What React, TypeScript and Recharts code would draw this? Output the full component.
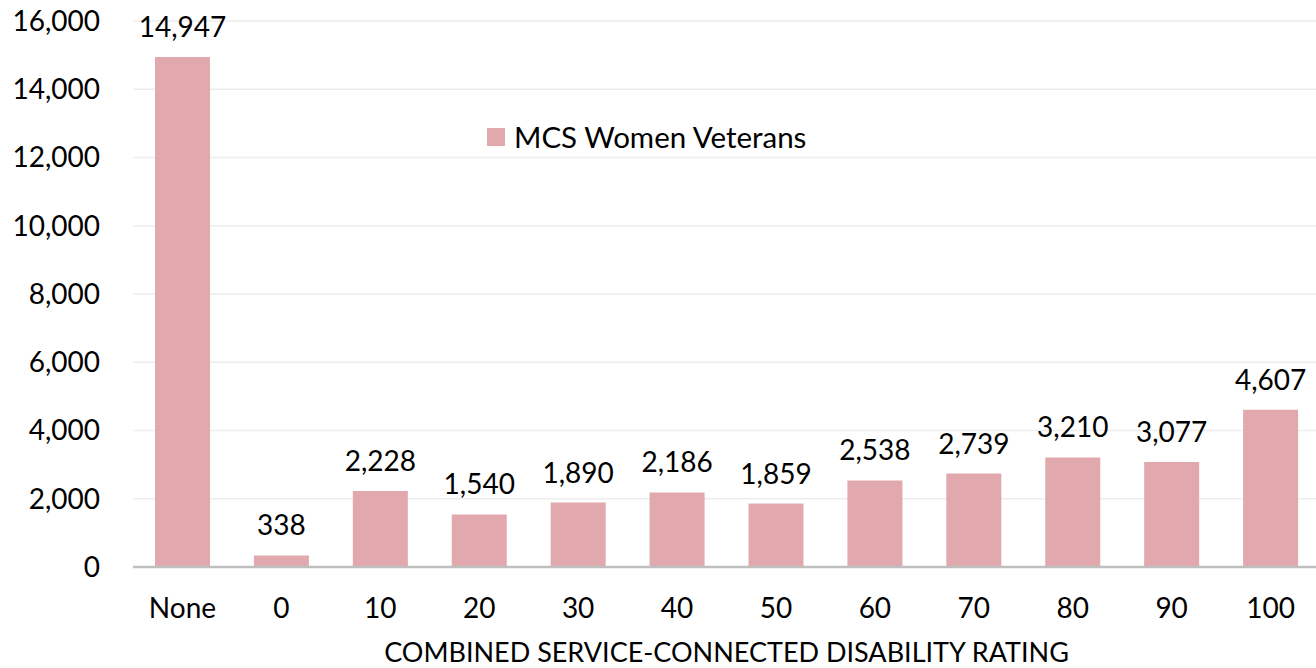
import React from 'react';
import { BarChart, Bar, XAxis, YAxis, CartesianGrid, Legend, LabelList } from 'recharts';

const categories = ['None', '0', '10', '20', '30', '40', '50', '60', '70', '80', '90', '100'];
const values = [14947, 338, 2228, 1540, 1890, 2186, 1859, 2538, 2739, 3210, 3077, 4607];
const yTicks = [0, 2000, 4000, 6000, 8000, 10000, 12000, 14000, 16000];
const seriesName = 'MCS Women Veterans';
const axisTitle = 'COMBINED SERVICE-CONNECTED DISABILITY RATING';

const data = categories.map((c, i) => ({ category: c, value: values[i] }));

const FONT = 'Lato, "Noto Sans", sans-serif';
const BAR_COLOR = '#E1A9AD';
const fmt = (v: number) => Number(v).toLocaleString('en-US');

const renderLegend = (props: any) => {
  const payload = props.payload || [];
  return (
    <div style={{ display: 'flex', flexDirection: 'column' }}>
      {payload.map((p: any, i: number) => (
        <div key={i} style={{ display: 'flex', alignItems: 'center', fontFamily: FONT, fontSize: 29.5, color: '#000', whiteSpace: 'nowrap' }}>
          <span style={{ display: 'inline-block', width: 18, height: 18, background: p.color, marginRight: 9 }} />
          <span>{p.value}</span>
        </div>
      ))}
    </div>
  );
};

export default function App() {
  return (
    <div style={{ position: 'absolute', left: 0, top: 0, width: 1316, height: 668, overflow: 'hidden', background: '#fff' }}>
      <BarChart
        width={1320}
        height={668}
        data={data}
        margin={{ top: 21, right: 0, bottom: 41, left: 0 }}
        style={{ fontFamily: FONT }}
      >
        <CartesianGrid vertical={false} stroke="#EDEDED" strokeWidth={1.5} />
        <XAxis
          dataKey="category"
          height={60}
          tickLine={false}
          tickSize={0}
          tickMargin={31}
          axisLine={{ stroke: '#BFBFBF', strokeWidth: 2.5 }}
          tick={{ fill: '#000', fontSize: 28, fontFamily: FONT }}
          interval={0}
          label={{ value: axisTitle, position: 'bottom', offset: 16, fill: '#000', fontSize: 27, fontFamily: FONT }}
        />
        <YAxis
          width={133}
          domain={[0, 16000]}
          ticks={yTicks}
          tickFormatter={fmt}
          axisLine={false}
          tickLine={false}
          tickSize={0}
          tickMargin={33}
          tick={{ fill: '#000', fontSize: 28, fontFamily: FONT }}
          interval={0}
        />
        <Legend
          content={renderLegend}
          layout="horizontal"
          verticalAlign="middle"
          align="center"
          wrapperStyle={{ left: 487, top: 119, width: 'auto', height: 'auto' }}
        />
        <Bar dataKey="value" name={seriesName} fill={BAR_COLOR} barSize={55} isAnimationActive={false}>
          <LabelList
            dataKey="value"
            position="top"
            offset={20}
            formatter={(v: any) => fmt(v)}
            style={{ fill: '#000', fontSize: 28, fontFamily: FONT }}
          />
        </Bar>
      </BarChart>
    </div>
  );
}
